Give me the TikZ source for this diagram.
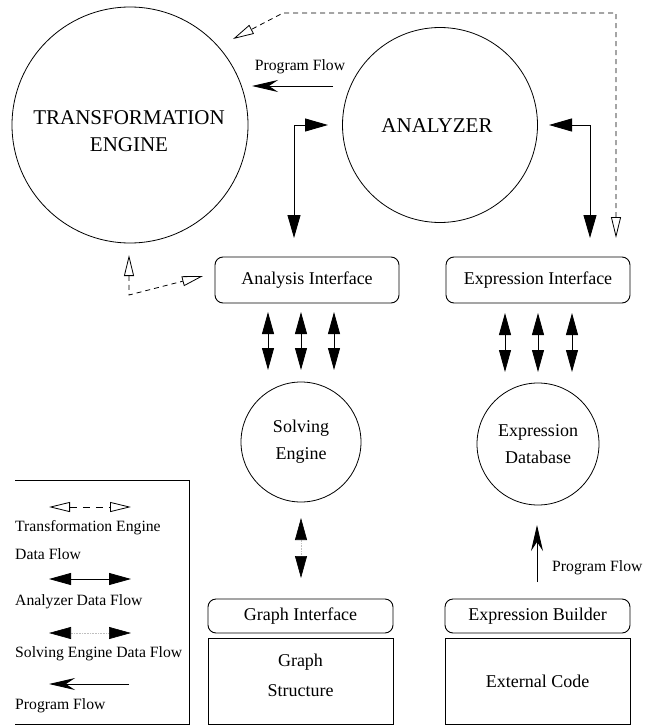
\documentclass[tikz,border=0pt]{standalone}
\usepackage{fontspec}
\setmainfont{Liberation Serif}
\usetikzlibrary{arrows.meta}
\begin{document}
\begin{tikzpicture}[x=1pt,y=-1pt,
  bigtxt/.style={font=\fontsize{21}{27}\selectfont, align=center, inner sep=0pt},
  midtxt/.style={font=\fontsize{18}{27}\selectfont, align=center, inner sep=0pt},
  smalltxt/.style={font=\fontsize{15.7}{18}\selectfont, inner sep=0pt},
  ring/.style={circle, draw, line width=0.8pt, inner sep=0pt},
  ibox/.style={draw, rounded corners=8pt, line width=0.9pt, inner sep=0pt},
  rbox/.style={draw, line width=0.9pt, inner sep=0pt},
  dflow/.style={{Triangle[length=22pt,width=12pt]}-{Triangle[length=22pt,width=12pt]}, line width=0.8pt},
  sflow/.style={{Triangle[length=22pt,width=12pt,color=black]}-{Triangle[length=22pt,width=12pt,color=black]}, line width=0.6pt, draw=black!25, densely dotted},
  lflow/.style={{Triangle[length=23pt,width=13pt]}-{Triangle[length=23pt,width=13pt]}, line width=0.9pt},
  tflow/.style={{Triangle[open,length=21pt,width=10pt]}-{Triangle[open,length=21pt,width=10pt]}, line width=0.8pt, dash pattern=on 5pt off 4pt},
  pflow/.style={-{Stealth[length=26pt,width=12pt,inset=9pt]}, line width=0.9pt},
]
\useasboundingbox (0,0) rectangle (653,725);

% main circles
\node[ring, minimum size=236pt] (te) at (130,125) {};
\node[bigtxt] (tetxt) at (129,131) {TRANSFORMATION\\ENGINE};
\node[ring, minimum size=195pt] (an) at (440,125) {};
\node[bigtxt] (antxt) at (437,126) {ANALYZER};

% interfaces
\node[ibox, minimum width=184pt, minimum height=46pt, midtxt] (ai) at (307,280) {Analysis Interface};
\node[ibox, minimum width=184pt, minimum height=46pt, midtxt] (ei) at (538,280) {Expression Interface};

\node[ring, minimum size=120pt, midtxt] (se) at (301,442) {Solving\\Engine};
\node[ring, minimum size=122pt, midtxt] (ed) at (538,444) {Expression\\Database};

\node[ibox, minimum width=185pt, minimum height=34pt, midtxt] (gi) at (300.5,616) {Graph Interface};
\node[rbox, minimum width=185pt, minimum height=86pt] (gs) at (300.5,681) {};
\node[midtxt, font=\fontsize{18}{30}\selectfont] (gstxt) at (300.5,675) {Graph\\Structure};

\node[ibox, minimum width=185pt, minimum height=34pt, midtxt] (eb) at (537.5,616) {Expression Builder};
\node[rbox, minimum width=185pt, minimum height=86pt, midtxt] (ec) at (537.5,681) {External Code};

% program flow between engines
\coordinate (pf1s) at (333,86);
\coordinate (pf1e) at (252,86);
\draw[pflow] (pf1s) -- (pf1e);
\node[smalltxt] (pf1lbl) at (300,67) {Program Flow};

% analyzer data flow L-arrows
\coordinate (la1) at (328,125);
\coordinate (la2) at (294,238);
\draw[lflow] (la1) -- (294,125) -- (la2);
\coordinate (ra1) at (549,125);
\coordinate (ra2) at (590,238);
\draw[lflow] (ra1) -- (590,125) -- (ra2);

% transformation engine data flow (dashed)
\coordinate (td1) at (616,238);
\coordinate (td2) at (233,39);
\draw[tflow] (td1) -- (616,13) -- (283,13) -- (td2);
\coordinate (tb1) at (129,255);
\coordinate (tb2) at (203,276);
\draw[tflow] (tb1) -- (129,295) -- (tb2);

% analysis interface <-> solving engine
\foreach \x/\n in {268/a,301/b,334/c} {
  \coordinate (s\n1) at (\x,312);
  \coordinate (s\n2) at (\x,370);
  \draw[dflow] (s\n1) -- (s\n2);
}
% expression interface <-> expression database
\foreach \x/\n in {505/a,538/b,572/c} {
  \coordinate (e\n1) at (\x,313);
  \coordinate (e\n2) at (\x,372);
  \draw[dflow] (e\n1) -- (e\n2);
}

% solving engine <-> graph interface
\coordinate (sg1) at (301,518);
\coordinate (sg2) at (301,578);
\draw[sflow] (sg1) -- (sg2);

% expression builder -> expression database
\coordinate (bd1) at (537,582);
\coordinate (bd2) at (537,525);
\draw[pflow] (bd1) -- (bd2);
\node[smalltxt, anchor=west] (pf2lbl) at (552,568) {Program Flow};

% legend
\coordinate (lg1) at (15,480);
\coordinate (lg2) at (189,480);
\coordinate (lg3) at (189,724);
\coordinate (lg4) at (15,724);
\draw[line width=0.9pt] (lg1) -- (lg2) -- (lg3) -- (lg4);

\coordinate (k1a) at (49,507); \coordinate (k1b) at (131,507);
\draw[tflow, dash pattern=on 7pt off 6pt] (k1a) -- (k1b);
\node[smalltxt, anchor=west] (k1t1) at (15,528) {Transformation Engine};
\node[smalltxt, anchor=west] (k1t2) at (15,554) {Data Flow};

\coordinate (k2a) at (49,579); \coordinate (k2b) at (131,579);
\draw[dflow] (k2a) -- (k2b);
\node[smalltxt, anchor=west] (k2t) at (15,602) {Analyzer Data Flow};

\coordinate (k3a) at (49,633); \coordinate (k3b) at (131,633);
\draw[sflow] (k3a) -- (k3b);
\node[smalltxt, anchor=west] (k3t) at (15,654) {Solving Engine Data Flow};

\coordinate (k4a) at (129,684); \coordinate (k4b) at (49,684);
\draw[pflow] (k4a) -- (k4b);
\node[smalltxt, anchor=west] (k4t) at (15,706) {Program Flow};
\end{tikzpicture}
\end{document}
